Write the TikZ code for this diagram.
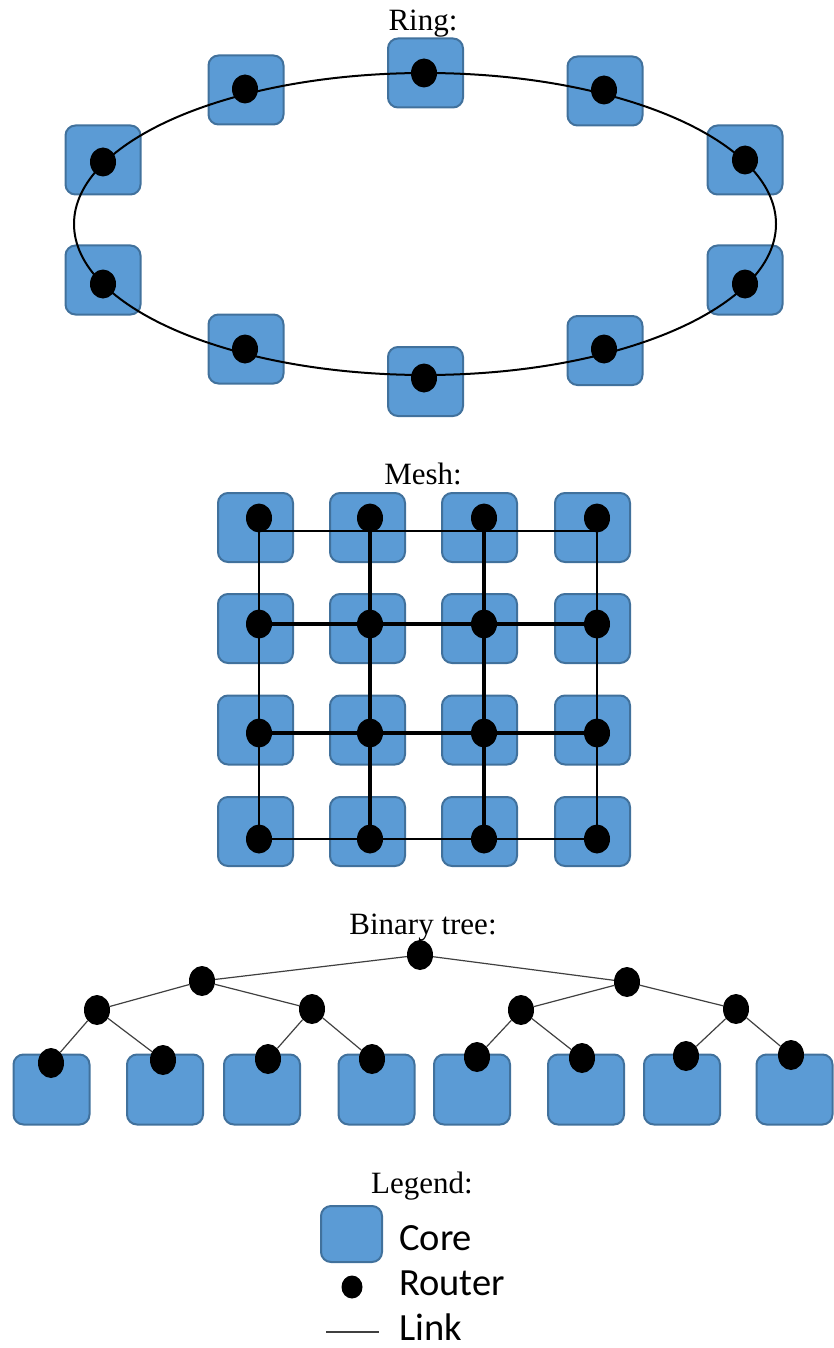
\documentclass[tikz,border=0pt]{standalone}
\usepackage{fontspec}
\setmainfont{Liberation Serif}
\newfontfamily\legendfont{Carlito}
\usetikzlibrary{shapes.geometric}
\definecolor{corefill}{HTML}{5B9BD5}
\definecolor{coreedge}{HTML}{41719C}
\definecolor{linkgray}{HTML}{404040}
\tikzset{
 core/.style={rectangle, draw=coreedge, fill=corefill, line width=2pt, rounded corners=10pt, minimum width=75pt, minimum height=69pt, inner sep=0pt},
 leafcore/.style={core, minimum width=76pt, minimum height=70pt},
 router/.style={ellipse, fill=black, minimum width=26pt, minimum height=29pt, inner sep=0pt},
 treerouter/.style={router, minimum height=30pt},
 title/.style={font=\fontsize{31}{36}\selectfont, anchor=base, inner sep=0pt},
 ringlink/.style={line width=2pt},
 meshthin/.style={line width=2pt},
 meshthick/.style={line width=4pt},
 treelink/.style={line width=1.2pt, draw=linkgray},
 legendtext/.style={font=\legendfont\fontsize{38.5}{44}\selectfont, anchor=base west, inner sep=0pt},
}
\begin{document}
\begin{tikzpicture}[x=1pt,y=-1pt]
\useasboundingbox (0,0) rectangle (833,1348);

% ---------------- Ring ----------------
\node[title] (ringtitle) at (423,31) {Ring:};
\node[core] (rc1) at (425.5,73) {};
\node[core] (rc2) at (605,91) {};
\node[core] (rc3) at (745,160) {};
\node[core] (rc4) at (745,280) {};
\node[core] (rc5) at (605,350.5) {};
\node[core] (rc6) at (425.5,381.5) {};
\node[core] (rc7) at (246,349) {};
\node[core] (rc8) at (103,280) {};
\node[core] (rc9) at (103,160) {};
\node[core] (rc10) at (246,90) {};
\coordinate (ringc) at (425,224);
\draw[ringlink] (ringc) ellipse [x radius=351pt, y radius=151pt];
\node[router] (rr1) at (424,73) {};
\node[router] (rr2) at (604,90) {};
\node[router] (rr3) at (745,160) {};
\node[router] (rr4) at (745,284) {};
\node[router] (rr5) at (604,349) {};
\node[router] (rr6) at (424,378) {};
\node[router] (rr7) at (245,349) {};
\node[router] (rr8) at (103,284) {};
\node[router] (rr9) at (103,162) {};
\node[router] (rr10) at (245,89) {};

% ---------------- Mesh ----------------
\node[title] (meshtitle) at (423,484) {Mesh:};
\foreach \r/\cy in {1/527.5,2/628.5,3/730,4/831.5}{
  \foreach \c/\cx in {1/255.5,2/367.5,3/479.5,4/592.5}{
    \node[core] (mc\r\c) at (\cx,\cy) {};
  }
}
\foreach \r/\ry in {1/518,2/624,3/733,4/839}{
  \foreach \c/\rx in {1/259,2/370,3/484,4/597}{
    \node[router] (m\r\c) at (\rx,\ry) {};
  }
}
\foreach \c/\rx in {1/259,2/370,3/484,4/597}{
  \coordinate (mt\c) at (\rx,531);
}
\draw[meshthin] (mt1) -- (mt4);
\draw[meshthin] (m41.center) -- (m44.center);
\draw[meshthin] (mt1) -- (m41.center);
\draw[meshthin] (mt4) -- (m44.center);
\draw[meshthick] (m21.center) -- (m24.center);
\draw[meshthick] (m31.center) -- (m34.center);
\draw[meshthick] (m12.center) -- (m42.center);
\draw[meshthick] (m13.center) -- (m43.center);

% ---------------- Binary tree ----------------
\node[title] (treetitle) at (423,934) {Binary tree:};
\foreach \i/\cx in {1/51.5,2/165,3/262,4/376.5,5/472,6/586,7/682,8/794.5}{
  \node[leafcore] (lc\i) at (\cx,1089.5) {};
}
\coordinate (t0p) at (420,955);
\coordinate (t1ap) at (202,981);
\coordinate (t1bp) at (627,982);
\coordinate (t2ap) at (97,1010);
\coordinate (t2bp) at (312,1009);
\coordinate (t2cp) at (521,1010);
\coordinate (t2dp) at (736,1009);
\node[treerouter] (t0) at (t0p) {};
\node[treerouter] (t1a) at (t1ap) {};
\node[treerouter] (t1b) at (t1bp) {};
\node[treerouter] (t2a) at (t2ap) {};
\node[treerouter] (t2b) at (t2bp) {};
\node[treerouter] (t2c) at (t2cp) {};
\node[treerouter] (t2d) at (t2dp) {};
\node[treerouter] (l1) at (51,1063) {};
\node[treerouter] (l2) at (163,1060) {};
\node[treerouter] (l3) at (268,1059) {};
\node[treerouter] (l4) at (372,1059) {};
\node[treerouter] (l5) at (477,1057) {};
\node[treerouter] (l6) at (582,1058) {};
\node[treerouter] (l7) at (686,1056) {};
\node[treerouter] (l8) at (791,1055) {};
\draw[treelink] (t0) -- (t1a);
\draw[treelink] (t0) -- (t1b);
\draw[treelink] (t1a) -- (t2a);
\draw[treelink] (t1a) -- (t2b);
\draw[treelink] (t1b) -- (t2c);
\draw[treelink] (t1b) -- (t2d);
\draw[treelink] (t2a) -- (l1);
\draw[treelink] (t2a) -- (l2);
\draw[treelink] (t2b) -- (l3);
\draw[treelink] (t2b) -- (l4);
\draw[treelink] (t2c) -- (l5);
\draw[treelink] (t2c) -- (l6);
\draw[treelink] (t2d) -- (l7);
\draw[treelink] (t2d) -- (l8);

% ---------------- Legend ----------------
\node[title] (legtitle) at (422,1193) {Legend:};
\node[core, minimum width=61pt, minimum height=56pt] (legcore) at (351.5,1234) {};
\node[router, minimum width=21pt, minimum height=23pt] (legrouter) at (352,1287) {};
\coordinate (ll1) at (326,1332);
\coordinate (ll2) at (379,1332);
\draw[treelink] (ll1) -- (ll2);
\node[legendtext] (legcoretext) at (399,1250) {Core};
\node[legendtext] (legroutertext) at (399,1295) {Router};
\node[legendtext] (leglinktext) at (399,1340) {Link};
\end{tikzpicture}
\end{document}
